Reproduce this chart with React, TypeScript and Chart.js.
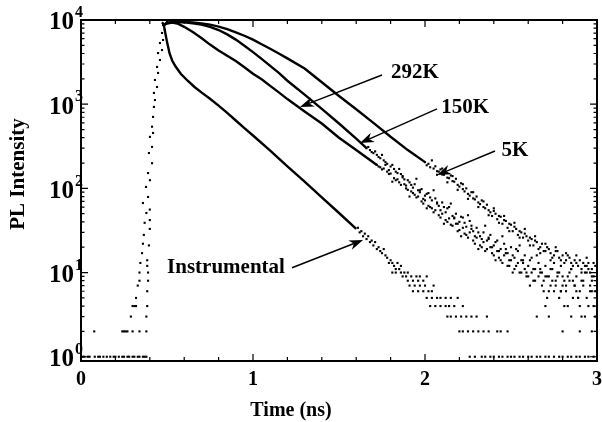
import React, { useEffect, useRef } from 'react';
import { Chart, registerables } from 'chart.js';

Chart.register(...registerables);

const FONT = '"Liberation Serif", "Times New Roman", serif';

// ---- data: [time (ns), PL counts] ----
const baselineDots: [number, number][] = [
  [0.01, 1], [0.02, 1], [0.04, 1], [0.05, 1], [0.08, 1], [0.1, 1], [0.11, 1], [0.13, 1], [0.15, 1], [0.17, 1],
  [0.19, 1], [0.2, 1], [0.22, 1], [0.24, 1], [0.25, 1], [0.27, 1], [0.28, 1], [0.3, 1], [0.31, 1], [0.33, 1],
  [0.34, 1], [0.36, 1], [0.37, 1], [0.38, 1],
];

const riseDots: [number, number][] = [
  [0.077, 2], [0.24, 2], [0.25, 2], [0.26, 2], [0.27, 2], [0.3, 2], [0.34, 2], [0.38, 2], [0.29, 3], [0.38, 3],
  [0.3, 4], [0.31, 4], [0.32, 4], [0.385, 4], [0.32, 5], [0.385, 6], [0.33, 7], [0.34, 8], [0.39, 8], [0.34, 10],
  [0.39, 10], [0.345, 13], [0.385, 12], [0.385, 14], [0.355, 17], [0.36, 22], [0.395, 21], [0.365, 28], [0.4, 33],
  [0.37, 39], [0.4, 42], [0.38, 51], [0.4, 56], [0.36, 67], [0.39, 79], [0.378, 104], [0.401, 125], [0.39, 152],
  [0.413, 199], [0.395, 263], [0.413, 311], [0.401, 409], [0.419, 455], [0.413, 540], [0.419, 706], [0.424, 928],
  [0.43, 1120], [0.424, 1360], [0.442, 1600], [0.43, 1940], [0.448, 2350], [0.442, 2770], [0.459, 3350],
  [0.448, 4050], [0.471, 4400], [0.459, 5330], [0.477, 5790], [0.471, 7010], [0.488, 7610], [0.477, 8720], [0.5, 9470],
];

const fiveKLine: [number, number][] = [
  [0.477, 8600], [0.5, 9300], [0.55, 9550], [0.6, 9500], [0.65, 9350], [0.7, 9100], [0.75, 8800], [0.8, 8350],
  [0.85, 7800], [0.9, 7150], [0.95, 6500], [1.0, 5850], [1.05, 5150], [1.1, 4550], [1.15, 4000], [1.2, 3500],
  [1.3, 2650], [1.4, 1820], [1.5, 1250], [1.6, 870], [1.7, 600], [1.8, 410], [1.9, 285], [2.0, 205],
];

const fiveKTail: [number, number][] = [
  [2.0, 205], [2.01, 188], [2.02, 196], [2.03, 178], [2.05, 172], [2.06, 183], [2.07, 160], [2.08, 158], [2.09, 168],
  [2.1, 146], [2.11, 145], [2.12, 155], [2.13, 134], [2.14, 132], [2.15, 142], [2.16, 122], [2.17, 120], [2.18, 130],
  [2.19, 110], [2.2, 105], [2.21, 115], [2.22, 98], [2.23, 92], [2.24, 100], [2.25, 86], [2.26, 82], [2.27, 90],
  [2.28, 76], [2.29, 74], [2.3, 80], [2.31, 68], [2.32, 65], [2.33, 72], [2.34, 60], [2.35, 58], [2.36, 64],
  [2.37, 55], [2.38, 52], [2.39, 47], [2.4, 54], [2.41, 50], [2.42, 43], [2.43, 47], [2.44, 46], [2.45, 38],
  [2.46, 42], [2.47, 41], [2.48, 34], [2.49, 38], [2.5, 37], [2.51, 31], [2.52, 35], [2.53, 33], [2.54, 28],
  [2.55, 31], [2.56, 30], [2.57, 26], [2.58, 29], [2.59, 27], [2.6, 24], [2.61, 26], [2.62, 25], [2.63, 21],
  [2.64, 24], [2.65, 23], [2.66, 19], [2.67, 20], [2.68, 22], [2.69, 18], [2.7, 18], [2.71, 20], [2.72, 19],
  [2.73, 17], [2.74, 15], [2.75, 16], [2.76, 18], [2.77, 18], [2.78, 15], [2.79, 14], [2.8, 16], [2.81, 13],
  [2.82, 14], [2.83, 16], [2.84, 15], [2.85, 13], [2.86, 12], [2.87, 14], [2.88, 13], [2.89, 12], [2.9, 14],
  [2.91, 11], [2.92, 13], [2.93, 12], [2.94, 12], [2.95, 13], [2.96, 10], [2.97, 11], [2.98, 13], [2.99, 12],
  [2.04, 215], [2.1, 172], [2.16, 140], [2.22, 112], [2.28, 90], [2.34, 70], [2.4, 58], [2.46, 47], [2.52, 39],
  [2.58, 33], [2.64, 27], [2.7, 22], [2.76, 20], [2.82, 17], [2.88, 16], [2.94, 15],
  [2.07, 145], [2.13, 118], [2.19, 96], [2.25, 75], [2.31, 60], [2.37, 48], [2.43, 39], [2.49, 31], [2.55, 26],
  [2.61, 21], [2.67, 17], [2.73, 14], [2.79, 12], [2.85, 11], [2.91, 10], [2.97, 9],
];

const k150Line: [number, number][] = [
  [0.477, 8600], [0.5, 9200], [0.55, 9450], [0.6, 9400], [0.65, 9150], [0.7, 8800], [0.75, 8300], [0.8, 7600],
  [0.85, 6750], [0.9, 5850], [0.95, 4950], [1.0, 4150], [1.05, 3450], [1.1, 2850], [1.15, 2350], [1.2, 1900],
  [1.3, 1300], [1.4, 880], [1.5, 590], [1.6, 390], [1.66, 300],
];

const k150Tail: [number, number][] = [
  [1.66, 300], [1.67, 310], [1.68, 285], [1.69, 270], [1.7, 262], [1.71, 275], [1.72, 250], [1.73, 236], [1.74, 228],
  [1.75, 250], [1.76, 215], [1.77, 205], [1.78, 196], [1.79, 165], [1.8, 182], [1.81, 190], [1.82, 170], [1.83, 158],
  [1.84, 152], [1.85, 170], [1.86, 148], [1.87, 140], [1.88, 128], [1.89, 108], [1.9, 125], [1.91, 118], [1.92, 110],
  [1.93, 102], [1.94, 112], [1.95, 130], [1.96, 95], [1.97, 90], [1.98, 98], [1.99, 75], [2.0, 82], [2.01, 86],
  [2.02, 88], [2.03, 78], [2.04, 72], [2.05, 95], [2.06, 76], [2.07, 68], [2.08, 62], [2.09, 55], [2.1, 68],
  [2.11, 60], [2.12, 52], [2.13, 58], [2.14, 60], [2.15, 66], [2.16, 47], [2.17, 44], [2.18, 50], [2.19, 38],
  [2.2, 40], [2.21, 46], [2.22, 45], [2.23, 39], [2.24, 35], [2.25, 48], [2.26, 41], [2.27, 33], [2.28, 31],
  [2.29, 27], [2.3, 34], [2.31, 30], [2.32, 27], [2.33, 25], [2.34, 30], [2.35, 36], [2.36, 24], [2.37, 26],
  [2.38, 28], [2.39, 20], [2.4, 21], [2.41, 23], [2.42, 24], [2.43, 18], [2.44, 19], [2.45, 27], [2.46, 22],
  [2.47, 17], [2.48, 17], [2.49, 14], [2.5, 20], [2.51, 16], [2.52, 15], [2.53, 19], [2.54, 18], [2.55, 21],
  [2.56, 14], [2.57, 13], [2.58, 16], [2.59, 10], [2.6, 12], [2.61, 14], [2.62, 15], [2.63, 11], [2.64, 11],
  [2.65, 16], [2.66, 13], [2.67, 10], [2.68, 10], [2.69, 8], [2.7, 12], [2.71, 9], [2.72, 9], [2.73, 11],
  [2.74, 11], [2.75, 13], [2.76, 8], [2.77, 10], [2.78, 10], [2.79, 6], [2.8, 9], [2.81, 8], [2.82, 7], [2.83, 9],
  [2.84, 10], [2.85, 11], [2.86, 8], [2.87, 7], [2.88, 9], [2.89, 5], [2.9, 6], [2.91, 8], [2.92, 8], [2.93, 10],
  [2.94, 10], [2.95, 11], [2.96, 7], [2.97, 6], [2.98, 9], [2.99, 6], [3.0, 8],
];

const k292Line: [number, number][] = [
  [0.477, 8600], [0.5, 9100], [0.53, 9300], [0.56, 9100], [0.6, 8300], [0.65, 7200], [0.7, 6100], [0.75, 5100],
  [0.8, 4350], [0.85, 3750], [0.9, 3250], [0.95, 2750], [1.0, 2300], [1.05, 1980], [1.1, 1650], [1.15, 1380],
  [1.2, 1150], [1.3, 820], [1.4, 590], [1.5, 400], [1.6, 285], [1.72, 190],
];

const k292Tail: [number, number][] = [
  [1.72, 190], [1.73, 182], [1.74, 178], [1.75, 168], [1.76, 172], [1.77, 190], [1.78, 158], [1.79, 148], [1.8, 150],
  [1.81, 120], [1.82, 132], [1.83, 125], [1.84, 128], [1.85, 118], [1.86, 110], [1.87, 135], [1.88, 112], [1.89, 100],
  [1.9, 96], [1.91, 80], [1.92, 92], [1.93, 88], [1.94, 84], [1.95, 78], [1.96, 80], [1.97, 95], [1.98, 70],
  [1.99, 66], [2.0, 72], [2.01, 58], [2.02, 62], [2.03, 60], [2.04, 58], [2.05, 52], [2.06, 55], [2.07, 66],
  [2.08, 48], [2.09, 45], [2.1, 50], [2.11, 38], [2.12, 42], [2.13, 40], [2.14, 44], [2.15, 37], [2.16, 36],
  [2.17, 45], [2.18, 38], [2.19, 31], [2.2, 32], [2.21, 27], [2.22, 34], [2.23, 29], [2.24, 28], [2.25, 26],
  [2.26, 30], [2.27, 36], [2.28, 24], [2.29, 22], [2.3, 26], [2.31, 19], [2.32, 21], [2.33, 20], [2.34, 23],
  [2.35, 18], [2.36, 19], [2.37, 25], [2.38, 20], [2.39, 17], [2.4, 16], [2.41, 14], [2.42, 18], [2.43, 15],
  [2.44, 14], [2.45, 13], [2.46, 16], [2.47, 19], [2.48, 12], [2.49, 12], [2.5, 14], [2.51, 10], [2.52, 11],
  [2.53, 12], [2.54, 13], [2.55, 10], [2.56, 10], [2.57, 14], [2.58, 11], [2.59, 9], [2.6, 9], [2.61, 7],
  [2.62, 10], [2.63, 8], [2.64, 8], [2.65, 3], [2.66, 9], [2.67, 11], [2.68, 7], [2.69, 6], [2.7, 9], [2.7, 4],
  [2.71, 5], [2.72, 6], [2.72, 3], [2.73, 7], [2.74, 8], [2.75, 6], [2.76, 7], [2.77, 9], [2.78, 5], [2.79, 6],
  [2.8, 7], [2.8, 2], [2.81, 4], [2.82, 6], [2.83, 4], [2.84, 8], [2.85, 3], [2.86, 5], [2.87, 7], [2.88, 6],
  [2.89, 5], [2.9, 4], [2.9, 2], [2.91, 3], [2.92, 7], [2.93, 3], [2.94, 5], [2.95, 4], [2.96, 6], [2.97, 8],
  [2.97, 2], [2.98, 4], [2.99, 3], [3.0, 6],
];

const instLine: [number, number][] = [
  [0.47, 9400], [0.48, 9000], [0.49, 7000], [0.5, 5500], [0.515, 4000], [0.53, 3300], [0.55, 2800], [0.58, 2300],
  [0.62, 1900], [0.66, 1600], [0.7, 1380], [0.75, 1160], [0.8, 960], [0.85, 790], [0.9, 640], [0.95, 520],
  [1.0, 425], [1.1, 280], [1.2, 183], [1.3, 120], [1.4, 78], [1.5, 51], [1.6, 33],
];

const instTail: [number, number][] = [
  [1.61, 34], [1.62, 30], [1.63, 31], [1.64, 27], [1.65, 29], [1.66, 25], [1.67, 27], [1.68, 23], [1.69, 24],
  [1.7, 21], [1.71, 23], [1.72, 19], [1.73, 20], [1.74, 18], [1.75, 17], [1.76, 19], [1.77, 16], [1.78, 15],
  [1.79, 13], [1.8, 14], [1.81, 13], [1.82, 12], [1.83, 11], [1.84, 13], [1.85, 11], [1.86, 12],
  [1.81, 10], [1.83, 10], [1.86, 10], [1.88, 10], [1.9, 10],
  [1.87, 9], [1.89, 9], [1.92, 9], [1.95, 9], [1.97, 9], [2.01, 9],
  [1.9, 8], [1.93, 8], [1.96, 8], [1.99, 8],
  [1.91, 7], [1.94, 7], [1.97, 7], [2.0, 7], [2.05, 7],
  [1.93, 6], [1.96, 6], [1.99, 6], [2.02, 6], [2.04, 6],
  [2.01, 5], [2.04, 5], [2.07, 5], [2.09, 5], [2.12, 5], [2.15, 5], [2.19, 5],
  [2.03, 4], [2.06, 4], [2.09, 4], [2.12, 4], [2.14, 4], [2.17, 4], [2.22, 4],
  [2.13, 3], [2.15, 3], [2.18, 3], [2.21, 3], [2.24, 3], [2.27, 3], [2.3, 3], [2.36, 3],
  [2.2, 2], [2.22, 2], [2.25, 2], [2.28, 2], [2.31, 2], [2.34, 2], [2.37, 2], [2.42, 2], [2.44, 2], [2.48, 2],
  [2.26, 1], [2.29, 1], [2.33, 1], [2.35, 1], [2.38, 1], [2.4, 1], [2.43, 1], [2.45, 1], [2.48, 1], [2.5, 1],
  [2.52, 1], [2.55, 1], [2.57, 1], [2.6, 1], [2.62, 1], [2.65, 1], [2.67, 1], [2.7, 1], [2.72, 1], [2.75, 1],
  [2.78, 1], [2.8, 1], [2.83, 1], [2.85, 1], [2.88, 1], [2.9, 1], [2.93, 1], [2.95, 1], [2.98, 1],
];

const xTickValues = [0, 1, 2, 3];
const xTickLabels = ['0', '1', '2', '3'];
const yTickExponents = [0, 1, 2, 3, 4];

const annotations = [
  { label: '292K', at: [1.942, 2350], from: [1.75, 2220], to: [1.273, 927] },
  { label: '150K', at: [2.233, 900], from: [2.07, 877], to: [1.622, 346] },
  { label: '5K', at: [2.523, 278], from: [2.407, 278], to: [2.07, 144] },
  { label: 'Instrumental', at: [0.843, 11.4], from: [1.227, 11.4], to: [1.64, 24.4] },
];

const xTitle = 'Time (ns)';
const yTitle = 'PL Intensity';

const toXY = (arr: [number, number][]) => arr.map(([x, y]) => ({ x, y }));

const dotStyle = {
  showLine: false,
  pointRadius: 1.5,
  pointStyle: 'rect',
  backgroundColor: '#000',
  borderWidth: 0,
};
const lineStyle = {
  showLine: true,
  borderColor: '#000',
  borderWidth: 2.4,
  pointRadius: 0,
  fill: false,
};

const decorPlugin = {
  id: 'decor',
  afterDraw(chart: any) {
    const { ctx, chartArea: a, scales } = chart;
    const xs = scales.x;
    const ys = scales.y;
    ctx.save();
    ctx.strokeStyle = '#000';
    ctx.fillStyle = '#000';

    // ticks (inward on all four sides)
    ctx.lineWidth = 1.2;
    ctx.beginPath();
    for (let i = 0; i <= 15; i++) {
      const px = xs.getPixelForValue(i * 0.2);
      const len = i % 5 === 0 ? 7 : 4;
      ctx.moveTo(px, a.bottom);
      ctx.lineTo(px, a.bottom - len);
      ctx.moveTo(px, a.top);
      ctx.lineTo(px, a.top + len);
    }
    for (let d = 0; d < 4; d++) {
      for (let m = 1; m <= 9; m++) {
        const py = ys.getPixelForValue(m * Math.pow(10, d));
        const len = m === 1 ? 7 : 3.5;
        ctx.moveTo(a.left, py);
        ctx.lineTo(a.left + len, py);
        ctx.moveTo(a.right, py);
        ctx.lineTo(a.right - len, py);
      }
    }
    ctx.stroke();

    // frame
    ctx.lineWidth = 2;
    ctx.strokeRect(a.left, a.top, a.right - a.left, a.bottom - a.top);

    // x tick labels
    ctx.font = `bold 20px ${FONT}`;
    ctx.textAlign = 'center';
    ctx.textBaseline = 'middle';
    xTickValues.forEach((v, i) => {
      ctx.fillText(xTickLabels[i], xs.getPixelForValue(v), 380);
    });

    // y tick labels 10^n
    yTickExponents.forEach((e) => {
      const py = ys.getPixelForValue(Math.pow(10, e));
      ctx.font = `bold 25px ${FONT}`;
      ctx.textAlign = 'right';
      ctx.textBaseline = 'middle';
      ctx.fillText('10', a.left - 7, py + 3);
      ctx.font = `bold 16px ${FONT}`;
      ctx.textAlign = 'left';
      ctx.fillText(String(e), a.left - 6, py - 7);
    });

    // axis titles
    ctx.font = `bold 20px ${FONT}`;
    ctx.textAlign = 'center';
    ctx.textBaseline = 'middle';
    ctx.fillText(xTitle, 291, 411);
    ctx.save();
    ctx.translate(19, 174);
    ctx.rotate(-Math.PI / 2);
    ctx.font = `bold 21px ${FONT}`;
    ctx.fillText(yTitle, 0, 0);
    ctx.restore();

    // annotations with arrows
    annotations.forEach((an) => {
      const tx = xs.getPixelForValue(an.at[0]);
      const ty = ys.getPixelForValue(an.at[1]);
      ctx.font = `bold 21px ${FONT}`;
      ctx.textAlign = 'center';
      ctx.textBaseline = 'middle';
      ctx.fillText(an.label, tx, ty);

      const fx = xs.getPixelForValue(an.from[0]);
      const fy = ys.getPixelForValue(an.from[1]);
      const ex = xs.getPixelForValue(an.to[0]);
      const ey = ys.getPixelForValue(an.to[1]);
      const dx = ex - fx;
      const dy = ey - fy;
      const L = Math.hypot(dx, dy);
      const ux = dx / L;
      const uy = dy / L;
      const nx = -uy;
      const ny = ux;
      const head = 14;
      const half = 5;
      ctx.lineWidth = 1.4;
      ctx.beginPath();
      ctx.moveTo(fx, fy);
      ctx.lineTo(ex - ux * head * 0.7, ey - uy * head * 0.7);
      ctx.stroke();
      ctx.beginPath();
      ctx.moveTo(ex, ey);
      ctx.lineTo(ex - ux * head + nx * half, ey - uy * head + ny * half);
      ctx.lineTo(ex - ux * head * 0.7, ey - uy * head * 0.7);
      ctx.lineTo(ex - ux * head - nx * half, ey - uy * head - ny * half);
      ctx.closePath();
      ctx.fill();
    });

    ctx.restore();
  },
};

export default function App() {
  const canvasRef = useRef<HTMLCanvasElement | null>(null);

  useEffect(() => {
    const canvas = canvasRef.current;
    if (!canvas) return;
    const chart = new Chart(canvas, {
      type: 'scatter',
      data: {
        datasets: [
          { label: 'baseline', data: toXY(baselineDots), ...dotStyle },
          { label: 'rise', data: toXY(riseDots), ...dotStyle },
          { label: '5K', data: toXY(fiveKLine), ...lineStyle },
          { label: '5K tail', data: toXY(fiveKTail), ...dotStyle },
          { label: '150K', data: toXY(k150Line), ...lineStyle },
          { label: '150K tail', data: toXY(k150Tail), ...dotStyle },
          { label: '292K', data: toXY(k292Line), ...lineStyle },
          { label: '292K tail', data: toXY(k292Tail), ...dotStyle },
          { label: 'Instrumental', data: toXY(instLine), ...lineStyle },
          { label: 'Instrumental tail', data: toXY(instTail), ...dotStyle },
        ] as any,
      },
      options: {
        animation: false,
        responsive: false,
        events: [],
        layout: { padding: { left: 81, right: 5, top: 20, bottom: 61 } },
        plugins: { legend: { display: false }, tooltip: { enabled: false } },
        scales: {
          x: { type: 'linear', min: 0, max: 3, display: false },
          y: { type: 'logarithmic', min: 0.89, max: 10000, display: false },
        },
      } as any,
      plugins: [decorPlugin],
    });
    return () => chart.destroy();
  }, []);

  return (
    <div style={{ position: 'absolute', left: 0, top: 0, width: 602, height: 422, background: '#fff' }}>
      <canvas ref={canvasRef} width={602} height={422} style={{ display: 'block' }} />
    </div>
  );
}
